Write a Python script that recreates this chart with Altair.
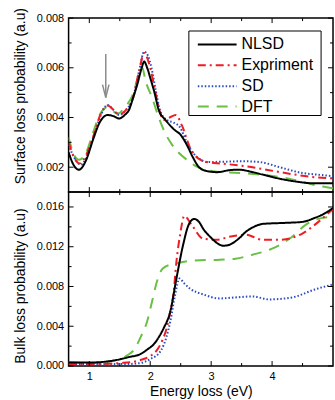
import altair as alt
import pandas as pd

# ---------------- data ----------------
series_names = ["NLSD", "Expriment", "SD", "DFT"]
series_colors = ["#000000", "#ee1c24", "#2b4cc0", "#6abf45"]
series_dashes = [[1, 0], [8, 4, 2, 4], [1.5, 2], [11, 8]]

x_domain = [0.66, 5.0]
surf_domain = [0.001, 0.008]
bulk_domain = [0.0, 0.0175]

# Surface loss probability
surf_nlsd_x = [0.66, 0.74, 0.83, 0.95, 1.06, 1.17, 1.30, 1.40, 1.49, 1.58, 1.65, 1.72, 1.79, 1.86, 1.90, 1.95, 2.00, 2.07, 2.14, 2.25, 2.40, 2.50, 2.60, 2.70, 2.80, 2.92, 3.10, 3.30, 3.46, 3.65, 3.85, 4.10, 4.40, 4.70, 5.00]
surf_nlsd_y = [0.0026, 0.0021, 0.0019, 0.0023, 0.0031, 0.0038, 0.0041, 0.00405, 0.00396, 0.0041, 0.0043, 0.0048, 0.00535, 0.0060, 0.00625, 0.0060, 0.0056, 0.0050, 0.0043, 0.0039, 0.0035, 0.0033, 0.0029, 0.0024, 0.0020, 0.00185, 0.0018, 0.00188, 0.0019, 0.00182, 0.0017, 0.00155, 0.00142, 0.00135, 0.00135]

surf_exp_x = [0.66, 0.75, 0.84, 0.95, 1.06, 1.18, 1.30, 1.40, 1.49, 1.60, 1.71, 1.82, 1.90, 1.95, 2.00, 2.07, 2.14, 2.22, 2.32, 2.42, 2.52, 2.65, 2.82, 3.00, 3.14, 3.57, 3.95, 4.33, 4.65, 5.00]
surf_exp_y = [0.0030, 0.0024, 0.00215, 0.0025, 0.0032, 0.0041, 0.00448, 0.0043, 0.00412, 0.0043, 0.00475, 0.0059, 0.0066, 0.0064, 0.0060, 0.0052, 0.0044, 0.0039, 0.0040, 0.0041, 0.00368, 0.0028, 0.0023, 0.00218, 0.00215, 0.00204, 0.00188, 0.00172, 0.00161, 0.00155]

surf_sd_x = [0.66, 0.75, 0.86, 0.97, 1.08, 1.19, 1.30, 1.40, 1.49, 1.60, 1.72, 1.82, 1.90, 1.96, 2.02, 2.09, 2.16, 2.27, 2.38, 2.49, 2.60, 2.71, 2.82, 2.93, 3.20, 3.52, 3.79, 4.11, 4.49, 4.75, 5.00]
surf_sd_y = [0.0029, 0.0024, 0.0021, 0.0025, 0.0033, 0.0041, 0.0045, 0.0043, 0.0041, 0.0043, 0.0048, 0.0059, 0.00665, 0.0065, 0.0060, 0.0051, 0.0043, 0.0039, 0.0038, 0.0036, 0.0030, 0.00255, 0.00232, 0.00221, 0.00222, 0.00224, 0.00221, 0.00201, 0.00177, 0.0017, 0.00164]

surf_dft_x = [0.66, 0.75, 0.83, 0.95, 1.05, 1.17, 1.28, 1.37, 1.46, 1.58, 1.71, 1.80, 1.87, 1.92, 2.03, 2.14, 2.25, 2.36, 2.46, 2.60, 2.78, 3.03, 3.46, 3.90, 4.33, 4.71, 5.00]
surf_dft_y = [0.0032, 0.0025, 0.0023, 0.0026, 0.0033, 0.0041, 0.0044, 0.0043, 0.00415, 0.0044, 0.0049, 0.0056, 0.0060, 0.0055, 0.0048, 0.0040, 0.00335, 0.0029, 0.0026, 0.0023, 0.0020, 0.00184, 0.00177, 0.00168, 0.00151, 0.00128, 0.00115]

# Bulk loss probability
bulk_nlsd_x = [0.66, 1.00, 1.20, 1.40, 1.52, 1.65, 1.84, 1.96, 2.06, 2.15, 2.22, 2.33, 2.43, 2.54, 2.63, 2.72, 2.80, 2.87, 3.00, 3.09, 3.20, 3.30, 3.45, 3.57, 3.70, 3.85, 4.22, 4.50, 4.70, 4.85, 5.00]
bulk_nlsd_y = [0.00035, 0.00035, 0.0004, 0.00055, 0.0007, 0.0009, 0.0012, 0.0017, 0.0022, 0.0030, 0.0038, 0.0055, 0.0088, 0.0122, 0.0142, 0.0148, 0.0145, 0.0138, 0.0129, 0.0124, 0.0121, 0.0122, 0.0128, 0.0135, 0.0140, 0.0143, 0.0144, 0.0145, 0.0149, 0.0153, 0.0159]

bulk_exp_x = [0.66, 1.20, 1.50, 1.70, 1.84, 2.00, 2.11, 2.20, 2.27, 2.33, 2.38, 2.43, 2.49, 2.56, 2.68, 2.87, 3.09, 3.30, 3.57, 3.84, 4.11, 4.49, 4.76, 5.00]
bulk_exp_y = [0.0002, 0.0002, 0.0003, 0.0004, 0.0006, 0.0010, 0.0016, 0.0026, 0.0038, 0.0055, 0.0072, 0.0105, 0.0132, 0.0151, 0.0142, 0.0128, 0.0127, 0.0130, 0.0132, 0.0127, 0.0127, 0.0133, 0.0145, 0.0158]

bulk_sd_x = [0.66, 1.20, 1.60, 1.84, 2.00, 2.17, 2.27, 2.33, 2.41, 2.48, 2.56, 2.65, 2.87, 3.14, 3.40, 3.68, 3.95, 4.33, 4.70, 5.00]
bulk_sd_y = [0.0002, 0.0002, 0.0002, 0.0003, 0.0007, 0.0015, 0.0030, 0.0045, 0.0072, 0.0088, 0.0083, 0.0078, 0.0072, 0.0068, 0.0069, 0.0070, 0.0067, 0.0069, 0.0077, 0.0082]

bulk_dft_x = [0.66, 1.00, 1.36, 1.50, 1.63, 1.73, 1.85, 1.95, 2.03, 2.11, 2.18, 2.25, 2.41, 2.71, 3.14, 3.40, 3.68, 4.00, 4.33, 4.55, 4.76, 5.00]
bulk_dft_y = [0.0004, 0.0003, 0.0005, 0.0007, 0.0011, 0.0016, 0.0030, 0.0045, 0.0065, 0.0085, 0.0096, 0.0100, 0.0103, 0.0106, 0.0107, 0.0108, 0.0112, 0.0118, 0.0130, 0.0142, 0.0148, 0.0150]

# axis tick values
x_major = [1, 2, 3, 4]
x_minor = [1.5, 2.5, 3.5, 4.5]
surf_major = [0.002, 0.004, 0.006, 0.008]
surf_minor = [0.003, 0.005, 0.007]
bulk_major = [0.0, 0.004, 0.008, 0.012, 0.016]
bulk_minor = [0.002, 0.006, 0.010, 0.014]

# arrow annotation (data coords)
arrow_x = [1.27]
arrow_top = [0.00655]
arrow_tip = [0.0048]

# ---------------- layout / style ----------------
W, H = 266, 175
FONT = "Liberation Sans"
MAJ, MIN = 5, 3
legend_rows = [43.5, 64.5, 85.5, 106]  # absolute page y
legend_rows = [r - 17 for r in legend_rows]


def long_df(pairs):
    rows = []
    for name, xs_, ys_ in pairs:
        for i, (a, b) in enumerate(zip(xs_, ys_)):
            rows.append({"series": name, "energy": a, "value": b, "i": i})
    return pd.DataFrame(rows)


surf_df = long_df([
    ("DFT", surf_dft_x, surf_dft_y),
    ("SD", surf_sd_x, surf_sd_y),
    ("Expriment", surf_exp_x, surf_exp_y),
    ("NLSD", surf_nlsd_x, surf_nlsd_y),
])
bulk_df = long_df([
    ("DFT", bulk_dft_x, bulk_dft_y),
    ("SD", bulk_sd_x, bulk_sd_y),
    ("Expriment", bulk_exp_x, bulk_exp_y),
    ("NLSD", bulk_nlsd_x, bulk_nlsd_y),
])


def xs():
    return alt.Scale(domain=x_domain, nice=False, zero=False)


def ys(dom):
    return alt.Scale(domain=dom, nice=False, zero=False)


def lines(df, ydom, yaxis, xaxis):
    return alt.Chart(df).mark_line(
        strokeWidth=2, interpolate="monotone", clip=True, strokeCap="butt"
    ).encode(
        x=alt.X("energy:Q", scale=xs(), axis=xaxis),
        y=alt.Y("value:Q", scale=ys(ydom), axis=yaxis),
        color=alt.Color("series:N", scale=alt.Scale(domain=series_names, range=series_colors), legend=None),
        strokeDash=alt.StrokeDash("series:N", scale=alt.Scale(domain=series_names, range=series_dashes), legend=None),
        order="i:Q",
        detail="series:N",
    )


def tick_layers(ydom, ymaj, ymin, xaxis, yaxis):
    layers = []
    for vals, L in ((x_major, MAJ), (x_minor, MIN)):
        d = pd.DataFrame({"v": vals})
        base = alt.Chart(d).mark_rule(color="black", strokeWidth=1)
        layers.append(base.encode(x=alt.X("v:Q", scale=xs(), axis=xaxis), y=alt.value(H), y2=alt.value(H - L)))
        layers.append(base.encode(x=alt.X("v:Q", scale=xs(), axis=xaxis), y=alt.value(0), y2=alt.value(L)))
    for vals, L in ((ymaj, MAJ), (ymin, MIN)):
        d = pd.DataFrame({"v": vals})
        base = alt.Chart(d).mark_rule(color="black", strokeWidth=1)
        layers.append(base.encode(y=alt.Y("v:Q", scale=ys(ydom), axis=yaxis), x=alt.value(0), x2=alt.value(L)))
        layers.append(base.encode(y=alt.Y("v:Q", scale=ys(ydom), axis=yaxis), x=alt.value(W), x2=alt.value(W - L)))
    return layers


one = pd.DataFrame({"a": [0]})


def legend_layers():
    layers = [alt.Chart(one).mark_rect(fill="white", stroke="black", strokeWidth=1).encode(
        x=alt.value(121), x2=alt.value(254), y=alt.value(13), y2=alt.value(98))]
    for name, col, dash, row in zip(series_names, series_colors, series_dashes, legend_rows):
        layers.append(alt.Chart(one).mark_rule(color=col, strokeDash=dash, strokeWidth=2, strokeCap="butt").encode(
            x=alt.value(130), x2=alt.value(169), y=alt.value(row)))
        layers.append(alt.Chart(one).mark_text(align="left", baseline="middle", fontSize=16, font=FONT, color="black").encode(
            x=alt.value(174), y=alt.value(row), text=alt.value(name)))
    return layers


top_yaxis = alt.Axis(values=surf_major, format=".3f", title="Surface loss probability (a.u)",
                     titleY=78, labelPadding=5, titlePadding=9)
bot_yaxis = alt.Axis(values=bulk_major, format=".3f", title="Bulk loss probability (a.u)",
                     titleY=94, labelPadding=5, titlePadding=9)
bot_xaxis = alt.Axis(values=x_major, format="d", title="Energy loss (eV)", labelPadding=5,
                     titlePadding=3, titleFontSize=14)

arrow_df = pd.DataFrame({"x": arrow_x, "top": arrow_top, "tip": arrow_tip})
arrow_shaft = alt.Chart(arrow_df).mark_rule(color="#8c8c8c", strokeWidth=1.5).encode(
    x=alt.X("x:Q", scale=xs(), axis=None),
    y=alt.Y("top:Q", scale=ys(surf_domain), axis=top_yaxis),
    y2="tip:Q",
)
arrow_head = alt.Chart(arrow_df).mark_point(
    shape="M-0.5,-1L0,1L0.5,-1", size=169, filled=False, color="#8c8c8c", strokeWidth=1.5, yOffset=-6.5, opacity=1
).encode(
    x=alt.X("x:Q", scale=xs(), axis=None),
    y=alt.Y("tip:Q", scale=ys(surf_domain), axis=top_yaxis),
)

top = alt.layer(
    lines(surf_df, surf_domain, top_yaxis, None),
    *tick_layers(surf_domain, surf_major, surf_minor, None, top_yaxis),
    arrow_shaft, arrow_head,
    *legend_layers(),
).properties(width=W, height=H)

bottom = alt.layer(
    lines(bulk_df, bulk_domain, bot_yaxis, bot_xaxis),
    *tick_layers(bulk_domain, bulk_major, bulk_minor, bot_xaxis, bot_yaxis),
).properties(width=W, height=H)

chart = alt.vconcat(top, bottom, spacing=0, bounds="flush").properties(
    padding={"left": 12, "top": 5, "right": 0, "bottom": 0}
).configure_view(
    stroke="black", strokeWidth=1.5
).configure_axis(
    labelFont=FONT, titleFont=FONT, labelFontSize=11, titleFontSize=14,
    ticks=False, domain=False, grid=False, labelColor="black", titleColor="black",
    titleFontWeight="normal",
)

chart.save("out.html", embed_options={"renderer": "svg", "actions": False})
